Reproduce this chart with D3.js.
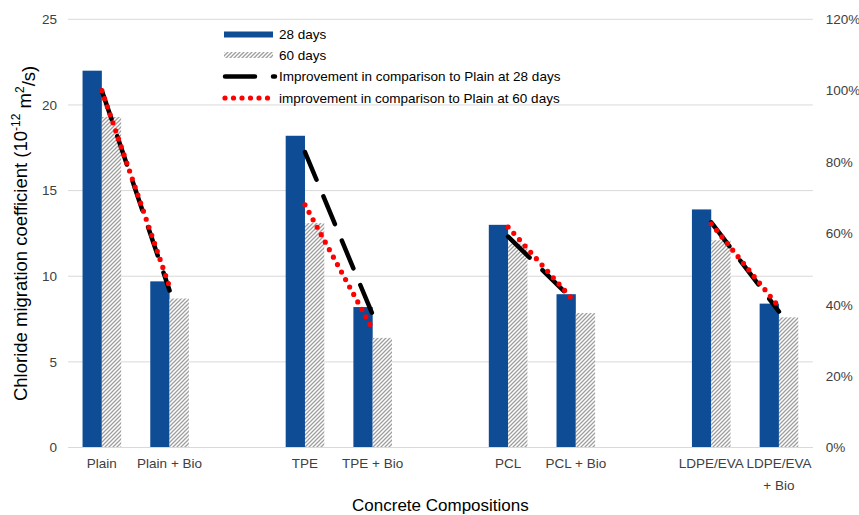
<!DOCTYPE html>
<html><head><meta charset="utf-8">
<script src="https://cdn.jsdelivr.net/npm/d3@7"></script>
<style>body{margin:0;background:#fff}svg{font-family:"Liberation Sans",Arial,sans-serif}</style>
</head><body>
<svg id="chart" width="859" height="515"></svg>
<script>
const categories = ["Plain","Plain + Bio","","TPE","TPE + Bio","","PCL","PCL + Bio","","LDPE/EVA","LDPE/EVA + Bio"];
const days28 = [22.0, 9.7, null, 18.2, 8.2, null, 13.0, 8.95, null, 13.9, 8.4];
const days60 = [19.3, 8.7, null, 13.1, 6.4, null, 11.9, 7.85, null, 12.1, 7.6];
const improve28 = [100, 44, null, 82.8, 37.2, null, 59.1, 40.6, null, 63.1, 38.1];
const improve60 = [100, 45, null, 68, 33.1, null, 61.8, 40.5, null, 62.7, 39.4];
const leftTicks = [0,5,10,15,20,25];
const rightTicks = [0,0.2,0.4,0.6,0.8,1.0,1.2];
const seriesNames = ["28 days","60 days","Improvement in comparison to Plain at 28 days","improvement in comparison to Plain at 60 days"];

const svg = d3.select("#chart");
const L = 68, R = 812.8, T = 19.3, B = 447.5;
const blue = "#0f4c96";

const defs = svg.append("defs");
const pat = defs.append("pattern").attr("id","hatch").attr("patternUnits","userSpaceOnUse")
  .attr("width",4).attr("height",4);
pat.append("rect").attr("width",4).attr("height",4).attr("fill","#fff");
pat.append("path").attr("d","M-1,1 l2,-2 M0,4 l4,-4 M3,5 l2,-2")
  .attr("stroke","#9e9e9e").attr("stroke-width",1.3);

const x = d3.scaleBand().domain(d3.range(categories.length)).range([L,R]).padding(0);
const sub = d3.scaleBand().domain([0,1]).range([0,x.bandwidth()]).paddingInner(0).paddingOuter(0.754);
const y = d3.scaleLinear().domain([0,25]).range([B,T]);
const y2 = d3.scaleLinear().domain([0,1.2]).range([B,T]);

// gridlines
svg.append("g").selectAll("line").data(leftTicks).join("line")
  .attr("x1",L).attr("x2",R).attr("y1",d=>y(d)).attr("y2",d=>y(d))
  .attr("stroke","#d9d9d9").attr("stroke-width",1);

// left axis
const ga = svg.append("g").attr("transform",`translate(${L},0)`)
  .call(d3.axisLeft(y).tickValues(leftTicks).tickSize(0).tickPadding(11));
ga.select(".domain").remove();
ga.selectAll("text").attr("font-size",13.5).attr("fill","#404040").attr("font-family","Liberation Sans, Arial, sans-serif");

// right axis
const gr = svg.append("g").attr("transform",`translate(${R},0)`)
  .call(d3.axisRight(y2).tickValues(rightTicks).tickSize(0).tickPadding(13).tickFormat(d3.format(".0%")));
gr.select(".domain").remove();
gr.selectAll("text").attr("font-size",13.5).attr("fill","#404040").attr("font-family","Liberation Sans, Arial, sans-serif");

// bars
const series = [{vals:days28, fill:blue},{vals:days60, fill:"url(#hatch)"}];
series.forEach((s,si)=>{
  svg.append("g").selectAll("rect").data(s.vals.map((v,i)=>({v,i})).filter(d=>d.v!=null)).join("rect")
    .attr("x",d=>x(d.i)+sub(si)).attr("width",sub.bandwidth())
    .attr("y",d=>y(d.v)).attr("height",d=>B-y(d.v)).attr("fill",s.fill);
});

// bottom axis labels
const gb = svg.append("g").attr("transform",`translate(0,${B})`)
  .call(d3.axisBottom(x).tickSize(0).tickPadding(11).tickFormat(i=>categories[i]));
gb.select(".domain").remove();
gb.selectAll("text").attr("font-size",13.5).attr("fill","#404040").attr("font-family","Liberation Sans, Arial, sans-serif")
  .each(function(i){
    const t = d3.select(this), txt = categories[i];
    if (this.getComputedTextLength() > x.bandwidth()-2) {
      const parts = txt.split(" + ");
      t.text(null);
      t.append("tspan").attr("x",0).attr("dy","0.71em").text(parts[0]);
      t.append("tspan").attr("x",0).attr("dy","1.65em").text("+ " + parts[1]);
      t.attr("dy",null);
    }
  });
svg.append("line").attr("x1",L).attr("x2",R).attr("y1",B).attr("y2",B).attr("stroke","#d9d9d9");

function segs(arr){
  const out=[]; let cur=[];
  arr.forEach((v,i)=>{ if(v==null){ if(cur.length) out.push(cur); cur=[]; } else cur.push([i,v]); });
  if(cur.length) out.push(cur);
  return out;
}
const lg = d3.line().x(d=>x(d[0])+x.bandwidth()/2).y(d=>y2(d[1]/100));
svg.append("g").selectAll("path").data(segs(improve28)).join("path")
  .attr("d",lg).attr("fill","none").attr("stroke","#000").attr("stroke-width",4.5)
  .attr("stroke-dasharray","30 18").attr("stroke-linecap","round");
svg.append("g").selectAll("path").data(segs(improve60)).join("path")
  .attr("d",lg).attr("fill","none").attr("stroke","#ff0000").attr("stroke-width",5.2)
  .attr("stroke-dasharray","0 8.5").attr("stroke-linecap","round");

// legend
const leg = svg.append("g");
const lx = 224, tx = 279;
const rows = [34.5, 55, 76.5, 98];
leg.append("rect").attr("x",lx).attr("y",rows[0]-3).attr("width",49).attr("height",6).attr("fill",blue);
leg.append("rect").attr("x",lx).attr("y",rows[1]-3).attr("width",49).attr("height",6).attr("fill","url(#hatch)");
leg.append("line").attr("x1",lx+1).attr("x2",lx+51).attr("y1",rows[2]).attr("y2",rows[2])
  .attr("stroke","#000").attr("stroke-width",4.5).attr("stroke-dasharray","30 18").attr("stroke-linecap","round");
leg.append("line").attr("x1",lx+1).attr("x2",lx+51).attr("y1",rows[3]).attr("y2",rows[3])
  .attr("stroke","#ff0000").attr("stroke-width",5.2).attr("stroke-dasharray","0 8.5").attr("stroke-linecap","round");
leg.selectAll("text").data(seriesNames).join("text")
  .attr("x",tx).attr("y",(d,i)=>rows[i]).attr("dy","0.35em")
  .attr("font-size",13.5).attr("fill","#000").text(d=>d);

// axis titles
svg.append("text").attr("x",(L+R)/2).attr("y",511).attr("text-anchor","middle")
  .attr("font-size",17).attr("fill","#000").text("Concrete Compositions");
const yt = svg.append("text").attr("transform",`translate(27,${(T+B)/2}) rotate(-90)`)
  .attr("text-anchor","middle").attr("font-size",18.5).attr("fill","#000");
yt.append("tspan").text("Chloride migration coefficient (10");
yt.append("tspan").attr("font-size",12).attr("dy","-0.6em").text("-12");
yt.append("tspan").attr("dy","0.6em").text(" m");
yt.append("tspan").attr("font-size",12).attr("dy","-0.6em").text("2");
yt.append("tspan").attr("dy","0.6em").text("/s)");
</script>
</body></html>
